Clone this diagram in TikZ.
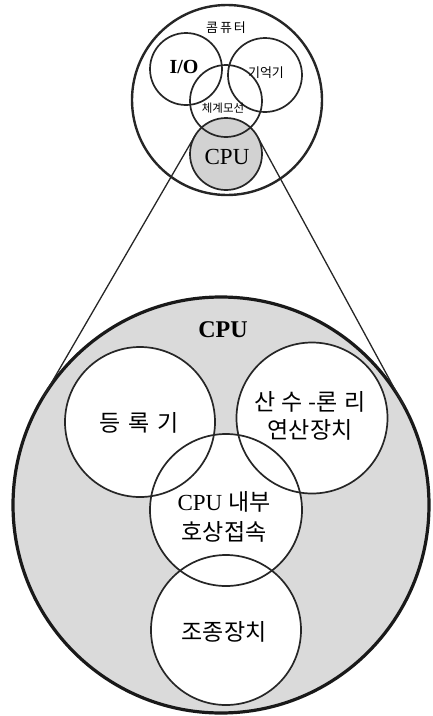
\documentclass[tikz,border=0pt]{standalone}
\usepackage{fontspec}
\setmainfont{Liberation Serif}
\newfontfamily\kr{Noto Sans CJK KR}
\usetikzlibrary{backgrounds}

\definecolor{cpufill}{RGB}{218,218,218}
\definecolor{cpusmall}{RGB}{210,210,210}

\tikzset{
  ring/.style={circle, draw=black!85, line width=1.7pt, inner sep=0pt, outer sep=0pt, minimum size=#1},
  outerring/.style={circle, draw=black!85, line width=2.4pt, inner sep=0pt, outer sep=0pt, minimum size=#1},
  bigring/.style={circle, draw=black!90, line width=3.2pt, inner sep=0pt, outer sep=0pt, minimum size=#1},
  zoomline/.style={draw=black!85, line width=1.3pt},
  label/.style={inner sep=0pt, align=center},
  krbig/.style={label, font=\kr\fontsize{23}{28}\selectfont},
  krsmall/.style={label, font=\kr\fontsize{#1}{#1}\selectfont},
}

\begin{document}
\begin{tikzpicture}[x=1pt, y=-1pt]
\useasboundingbox (0,0) rectangle (433,716);

% ---------- computer overview ----------
\node[outerring=190pt] (comp) at (227,100) {};
\node[ring=72pt] (io)  at (186,69)  {};
\node[ring=74pt] (mem) at (265,75)  {};
\node[ring=72pt] (sysbus) at (226,101) {};
\node[ring=72pt] (cpuS) at (226,154) {};

% ---------- CPU detail ----------
\node[bigring=416pt] (cpuB) at (221,505) {};
\node[ring=150pt] (reg) at (140,422) {};
\node[ring=151pt] (alu) at (312,418) {};
\node[ring=152pt] (ibus) at (226,510) {};
\node[ring=150pt] (ctl) at (226,630) {};

% fills behind the outlines
\begin{scope}[on background layer]
  \fill[cpusmall] (cpuS.center) circle[radius=36pt];
  \fill[cpufill] (cpuB.center) circle[radius=208pt];
  \fill[white] (reg.center) circle[radius=75pt];
  \fill[white] (alu.center) circle[radius=75.5pt];
  \fill[white] (ibus.center) circle[radius=76pt];
  \fill[white] (ctl.center) circle[radius=75pt];
\end{scope}

% common tangents joining the small CPU to its enlarged view
\draw[zoomline] (cpuS.149.84) -- (cpuB.149.84);
\draw[zoomline] (cpuS.28.52) -- (cpuB.28.52);

% ---------- labels ----------
\node[krsmall=13] (tComp) at (226,28) {콤\hspace{2pt}퓨\hspace{2pt}터};
\node[label, font=\fontsize{20}{22}\selectfont\bfseries] (tIO) at (184,67) {I/O};
\node[krsmall=13] (tMem) at (266,73) {기억기};
\node[krsmall=11.5] (tBus) at (223,108) {체계모선};
\node[label, font=\fontsize{23}{25}\selectfont] (tCpuS) at (227,157) {CPU};

\node[label, font=\fontsize{24}{26}\selectfont\bfseries] (tCpuB) at (223,330) {CPU};
\node[krbig] (tReg) at (139,423) {등\hspace{8pt}록\hspace{8pt}기};
\node[krbig] (tAlu) at (310,416) {산\hspace{6pt}수\hspace{6pt}-론\hspace{6pt}리\\연산장치};
\node[label, font=\fontsize{23}{30}\selectfont] (tIbus) at (224,517) {CPU {\kr 내부}\\{\kr 호상접속}};
\node[krbig] (tCtl) at (224,632) {조종장치};
\end{tikzpicture}
\end{document}
